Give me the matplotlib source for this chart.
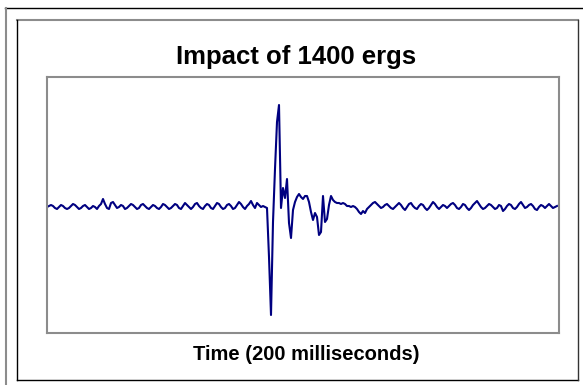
import numpy as np
import matplotlib
matplotlib.use("Agg")
import matplotlib.pyplot as plt
from matplotlib.lines import Line2D

title = "Impact of 1400 ergs"
xlabel = "Time (200 milliseconds)"

pre_event = [0, 1, 2, 1, -1, -2, 0, 2, 1, -1,
             -2, -1, 1, 3, 2, 0, -2, -1, 1, 2,
             0, -2, -1, 1, 0, -2, 1, 3, 8, 3,
             -1, -2, 4, 5, 2, -1, 0, 2, 1, -2,
             -1, 1, 3, 2, 0, -2, -1, 2, 3, 1,
             -1, -2, 0, 2, 1, -1, -2, 0, 3, 2,
             0, -2, -1, 1, 3, 2, -1, -2, 1, 4,
             2, 0, -2, 0, 3, 4, 1, -1, -2, 1,
             3, 2, -1, -2, 1, 4, 3, 0, -2, -1,
             2, 3, 1, -2, -1, 2, 5, 3, 0, -2,
             1, 3, 6, 2, -1, 4, 2, 0, 1, 0]
impact = [-1, -50, -108, -15, 38, 85, 102, -1, 19, 9,
          28, -16, -31, -3, 5, 10, 13, 10, 8, 11,
          11, 5, -5, -13, -6, -10, -28, -25, 11, -15,
          -12, 2, 11, 7, 5, 4, 4, 3, 4, 3,
          1, 1]
post_event = [0, 1, 0, -2, -5, -7, -4, -6, -2, 0,
              2, 4, 5, 3, 1, -1, 0, 2, 3, 1,
              -1, -2, 0, 2, 4, 2, -1, -3, 0, 3,
              4, 1, -1, -2, 1, 3, 2, -1, -3, -1,
              2, 5, 3, 0, -2, 0, 2, 1, -1, 1,
              3, 4, 2, -1, -2, 0, 3, 2, -1, -3,
              -1, 2, 4, 6, 3, 0, -2, -1, 1, 3,
              2, 0, -2, -1, 2, 1, -4, -2, 1, 3,
              2, -1, -2, 0, 3, 5, 2, -1, 0, 2,
              3, 1, -2, -3, 0, 2, 1, -1, 1, 3,
              1, -1, 0, 1]

signal = np.array(pre_event + impact + post_event, dtype=float)
samples = np.arange(len(signal))

W, H = 583, 385
fig = plt.figure(figsize=(W / 100, H / 100), dpi=100)
fig.patch.set_facecolor("white")

def fl(x0, y0, x1, y1, color, lw=1.0):
    fig.add_artist(Line2D([x0 / W, x1 / W], [1 - y0 / H, 1 - y1 / H],
                          transform=fig.transFigure, color=color, lw=lw))

# outer frame (partly cut)
fl(5, 8, 583, 8, "#000000", 1.0)
fl(6, 8, 6, 385, "#8c8c8c", 1.5)
# inner frame
fl(17, 20, 578, 20, "#8c8c8c", 1.5)
fl(17, 20, 17, 380, "#000000", 1.0)
fl(17, 380, 578, 380, "#000000", 1.0)
fl(578, 20, 578, 380, "#333333", 1.0)

ax = fig.add_axes([47 / W, 1 - 333 / H, 512 / W, 256 / H])
ax.plot(samples, signal, color="#000080", lw=1.5)
ax.set_xlim(0, 256)
ax.set_ylim(-126, 130)
ax.set_xticks([])
ax.set_yticks([])
for s in ax.spines.values():
    s.set_color("#8c8c8c")
    s.set_linewidth(1.5)

fig.text(296.5 / W, 1 - 57 / H, title, ha="center", va="center",
         fontsize=18.5, fontweight="bold", family="Liberation Sans")
fig.text(306 / W, 1 - 354 / H, xlabel, ha="center", va="center",
         fontsize=14.5, fontweight="bold", family="Liberation Sans")

fig.savefig("out.png", dpi=100)
